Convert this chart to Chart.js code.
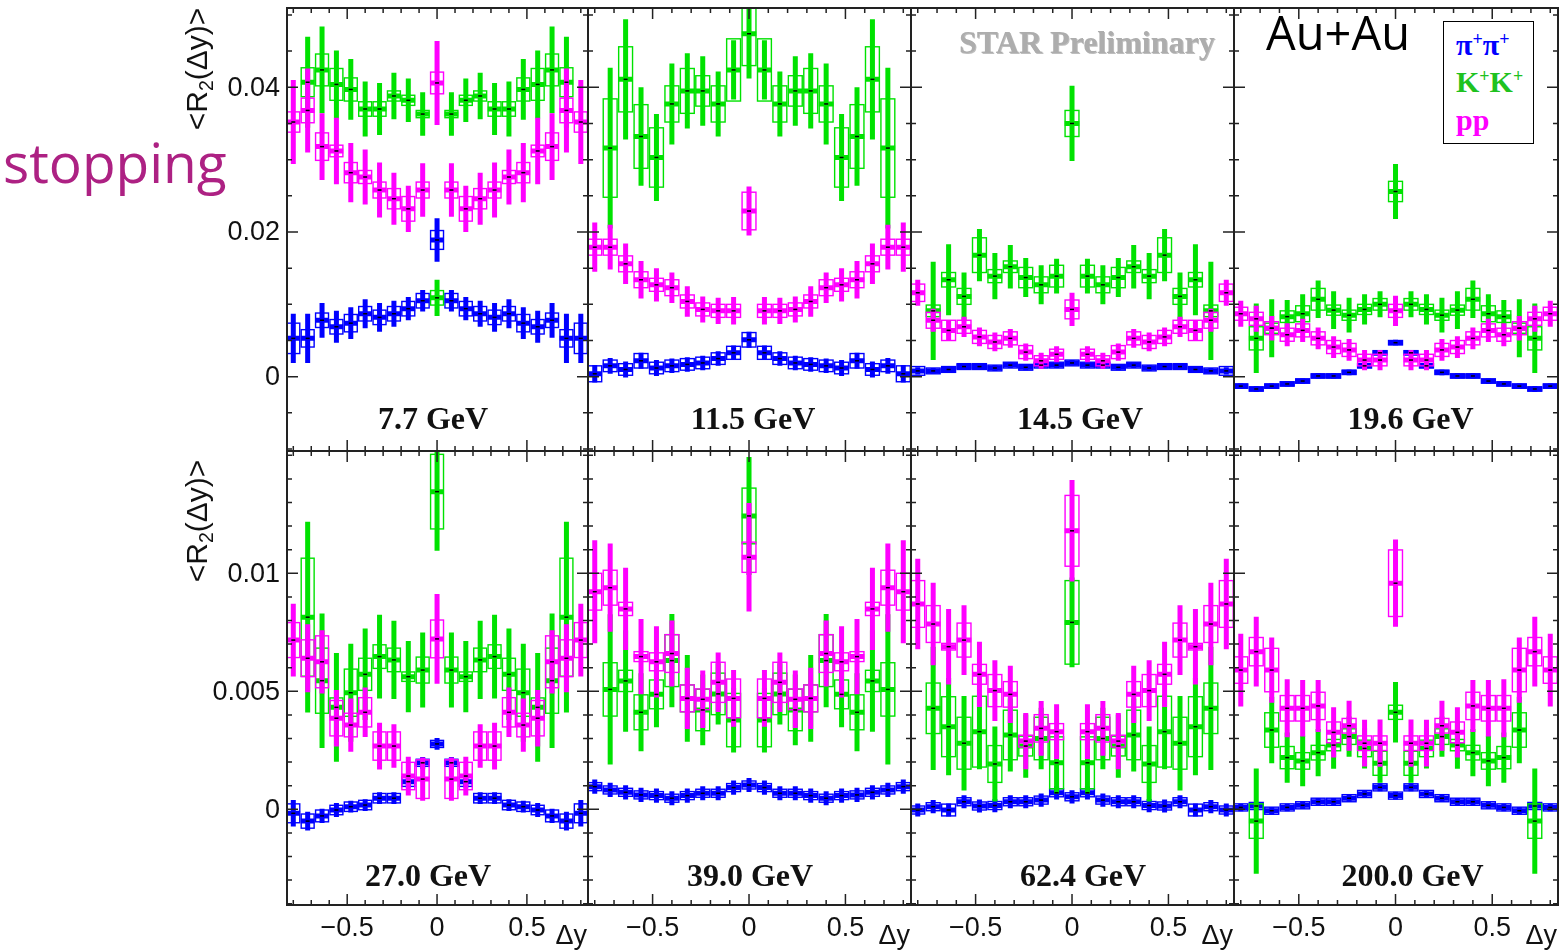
<!DOCTYPE html>
<html>
<head>
<meta charset="utf-8">
<script src="https://cdn.jsdelivr.net/npm/chart.js@4.4.1/dist/chart.umd.min.js"></script>
<style>
  html, body { margin: 0; padding: 0; background: #fff; }
  #page { position: relative; width: 1559px; height: 951px; overflow: hidden; background: #fff; }
  #page canvas { position: absolute; left: 0; top: 0; }
  .txt { position: absolute; white-space: nowrap; line-height: 1; z-index: 5; }
  .ytitle { font: 30px "Liberation Sans", Arial, sans-serif; color: #111; display: inline-block;
            transform: translate(-50%, -50%) rotate(-90deg); }
  .ytitle .sub { font-size: 0.65em; position: relative; top: 0.3em; }
  #legend { position: absolute; left: 1443px; top: 21px; width: 89px; height: 121px;
            border: 1.5px solid #000; background: #fff; z-index: 5; }
  #legend .txt { font: bold 30px "Liberation Serif", "Times New Roman", serif; left: 12px; }
  #legend .sup { font-size: 0.6em; position: relative; top: -10px; }
</style>
</head>
<body>
<div id="page">
  <span class="txt" style="left:3px; top:124px; font: 55px 'Open Sans', sans-serif; color:#ad2183;">stopping</span>
  <span class="txt" style="left:197px; top:69px;"><span class="ytitle">&lt;R<span class="sub">2</span>(Δy)&gt;</span></span>
  <span class="txt" style="left:197px; top:521px;"><span class="ytitle">&lt;R<span class="sub">2</span>(Δy)&gt;</span></span>
  <span class="txt" style="left:959px; top:24px; font: bold 32px 'Liberation Serif', serif; color:#adadad; text-shadow: 1px 1px 0 rgba(110,110,110,0.45);">STAR Preliminary</span>
  <span class="txt" style="left:1266px; top:0px; font: 47px 'Open Sans', sans-serif; color:#000;">Au+Au</span>
  <div id="legend">
    <span class="txt" style="top:6px; color:#0000ff;">π<span class="sup">+</span>π<span class="sup">+</span></span>
    <span class="txt" style="top:43px; color:#1fc21f;">K<span class="sup">+</span>K<span class="sup">+</span></span>
    <span class="txt" style="top:81px; color:#ff00ff;">pp</span>
  </div>
</div>
<script>
// delta-y bins
const dy = [-0.8,-0.72,-0.64,-0.56,-0.48,-0.4,-0.32,-0.24,-0.16,-0.08,0,0.08,0.16,0.24,0.32,0.4,0.48,0.56,0.64,0.72,0.8];

// 7.7 GeV
const pi77 = [0.0053,0.0053,0.0078,0.0069,0.0074,0.0087,0.0082,0.0087,0.0094,0.0105,0.0189,0.0105,0.0094,0.0087,0.0082,0.0087,0.0074,0.0069,0.0078,0.0053,0.0053];
const pi77Stat = [0.0034,0.0034,0.0024,0.0022,0.0022,0.0020,0.0020,0.0018,0.0016,0.0015,0.0030,0.0015,0.0016,0.0018,0.0020,0.0020,0.0022,0.0022,0.0024,0.0034,0.0034];
const pi77Sys = [0.0021,0.0012,0.0010,0.0010,0.0012,0.0010,0.0010,0.0010,0.0010,0.0010,0.0013,0.0010,0.0010,0.0010,0.0010,0.0010,0.0012,0.0010,0.0010,0.0012,0.0021];
const k77 = [null,0.0407,0.0424,0.0404,0.0397,0.0370,0.0370,0.0388,0.0382,0.0363,0.0109,0.0363,0.0382,0.0388,0.0370,0.0370,0.0397,0.0404,0.0424,0.0407,null];
const k77Stat = [null,0.0063,0.0060,0.0047,0.0042,0.0038,0.0036,0.0032,0.0030,0.0030,0.0025,0.0030,0.0030,0.0032,0.0036,0.0038,0.0042,0.0047,0.0060,0.0063,null];
const k77Sys = [null,0.0020,0.0022,0.0022,0.0016,0.0010,0.0010,0.0007,0.0007,0.0005,0.0010,0.0005,0.0007,0.0007,0.0010,0.0010,0.0016,0.0022,0.0022,0.0020,null];
const p77 = [0.0352,0.0368,0.0318,0.0312,0.0282,0.0276,0.0258,0.0246,0.0232,0.0258,0.0406,0.0258,0.0232,0.0246,0.0258,0.0276,0.0282,0.0312,0.0318,0.0368,0.0352];
const p77Stat = [0.0058,0.0058,0.0046,0.0046,0.0041,0.0038,0.0038,0.0036,0.0032,0.0037,0.0058,0.0037,0.0032,0.0036,0.0038,0.0038,0.0041,0.0046,0.0046,0.0058,0.0058];
const p77Sys = [0.0014,0.0017,0.0019,0.0008,0.0014,0.0009,0.0011,0.0014,0.0017,0.0011,0.0015,0.0011,0.0017,0.0014,0.0011,0.0009,0.0014,0.0008,0.0019,0.0017,0.0014];

// 11.5 GeV
const pi115 = [0.0004,0.0015,0.0010,0.0022,0.0012,0.0015,0.0017,0.0019,0.0025,0.0033,0.0051,0.0033,0.0025,0.0019,0.0017,0.0015,0.0012,0.0022,0.0010,0.0015,0.0004];
const pi115Stat = [0.0012,0.0011,0.0011,0.0011,0.0011,0.0010,0.0010,0.0010,0.0010,0.0010,0.0011,0.0010,0.0010,0.0010,0.0010,0.0010,0.0011,0.0011,0.0011,0.0011,0.0012];
const pi115Sys = [0.0011,0.0008,0.0008,0.0010,0.0008,0.0008,0.0008,0.0008,0.0008,0.0009,0.0010,0.0009,0.0008,0.0008,0.0008,0.0008,0.0008,0.0010,0.0008,0.0008,0.0011];
const k115 = [null,0.0316,0.0411,0.0332,0.0303,0.0377,0.0395,0.0395,0.0377,0.0424,0.0474,0.0424,0.0377,0.0395,0.0395,0.0377,0.0303,0.0332,0.0411,0.0316,null];
const k115Stat = [null,0.0111,0.0083,0.0068,0.0060,0.0056,0.0052,0.0048,0.0045,0.0041,0.0062,0.0041,0.0045,0.0048,0.0052,0.0056,0.0060,0.0068,0.0083,0.0111,null];
const k115Sys = [null,0.0068,0.0045,0.0044,0.0041,0.0025,0.0031,0.0021,0.0025,0.0043,0.0044,0.0043,0.0025,0.0021,0.0031,0.0025,0.0041,0.0044,0.0045,0.0068,null];
const p115 = [0.0179,0.0179,0.0156,0.0134,0.0127,0.0123,0.0104,0.0093,0.0091,0.0091,0.0229,0.0091,0.0091,0.0093,0.0104,0.0123,0.0127,0.0134,0.0156,0.0179,0.0179];
const p115Stat = [0.0034,0.0031,0.0028,0.0026,0.0023,0.0021,0.0021,0.0018,0.0018,0.0019,0.0034,0.0019,0.0018,0.0018,0.0021,0.0021,0.0023,0.0026,0.0028,0.0031,0.0034];
const p115Sys = [0.0011,0.0011,0.0011,0.0011,0.0009,0.0011,0.0009,0.0009,0.0009,0.0009,0.0026,0.0009,0.0009,0.0009,0.0009,0.0011,0.0009,0.0011,0.0011,0.0011,0.0011];

// 14.5 GeV
const pi145 = [0.0008,0.0008,0.0010,0.0014,0.0014,0.0012,0.0016,0.0013,0.0016,0.0016,0.0019,0.0016,0.0016,0.0013,0.0016,0.0012,0.0014,0.0014,0.0010,0.0008,0.0008];
const pi145Stat = [0.0005,0.0004,0.0004,0.0004,0.0004,0.0004,0.0004,0.0004,0.0004,0.0004,0.0004,0.0004,0.0004,0.0004,0.0004,0.0004,0.0004,0.0004,0.0004,0.0004,0.0005];
const pi145Sys = [0.0006,0.0004,0.0004,0.0004,0.0004,0.0004,0.0004,0.0004,0.0004,0.0004,0.0004,0.0004,0.0004,0.0004,0.0004,0.0004,0.0004,0.0004,0.0004,0.0004,0.0006];
const k145 = [null,0.0091,0.0134,0.0111,0.0168,0.0139,0.0152,0.0137,0.0127,0.0139,0.0350,0.0139,0.0127,0.0137,0.0152,0.0139,0.0168,0.0111,0.0134,0.0091,null];
const k145Stat = [null,0.0068,0.0049,0.0033,0.0036,0.0032,0.0030,0.0027,0.0027,0.0024,0.0052,0.0024,0.0027,0.0027,0.0030,0.0032,0.0036,0.0033,0.0049,0.0068,null];
const k145Sys = [null,0.0008,0.0010,0.0011,0.0024,0.0009,0.0008,0.0014,0.0011,0.0015,0.0018,0.0015,0.0011,0.0014,0.0008,0.0009,0.0024,0.0011,0.0010,0.0008,null];
const p145 = [0.0116,0.0078,0.0064,0.0069,0.0055,0.0048,0.0053,0.0034,0.0022,0.0031,0.0093,0.0031,0.0022,0.0034,0.0053,0.0048,0.0055,0.0069,0.0064,0.0078,0.0116];
const p145Stat = [0.0018,0.0016,0.0014,0.0014,0.0013,0.0013,0.0013,0.0012,0.0011,0.0011,0.0023,0.0011,0.0011,0.0012,0.0013,0.0013,0.0013,0.0014,0.0014,0.0016,0.0018];
const p145Sys = [0.0012,0.0011,0.0014,0.0009,0.0009,0.0009,0.0009,0.0009,0.0007,0.0007,0.0013,0.0007,0.0007,0.0009,0.0009,0.0009,0.0009,0.0009,0.0014,0.0011,0.0012];

// 19.6 GeV
const pi196 = [-0.0013,-0.0017,-0.0013,-0.0010,-0.0006,0.0001,0.0001,0.0006,0.0015,0.0033,0.0047,0.0033,0.0015,0.0006,0.0001,0.0001,-0.0006,-0.0010,-0.0013,-0.0017,-0.0013];
const pi196Stat = [0.0004,0.0004,0.0004,0.0004,0.0004,0.0004,0.0004,0.0004,0.0004,0.0004,0.0004,0.0004,0.0004,0.0004,0.0004,0.0004,0.0004,0.0004,0.0004,0.0004,0.0004];
const pi196Sys = [0.0003,0.0003,0.0003,0.0003,0.0003,0.0003,0.0003,0.0003,0.0003,0.0003,0.0003,0.0003,0.0003,0.0003,0.0003,0.0003,0.0003,0.0003,0.0003,0.0003,0.0003];
const k196 = [null,0.0053,0.0067,0.0083,0.0087,0.0107,0.0092,0.0085,0.0093,0.0100,0.0256,0.0100,0.0093,0.0085,0.0092,0.0107,0.0087,0.0083,0.0067,0.0053,null];
const k196Stat = [null,0.0048,0.0040,0.0023,0.0027,0.0026,0.0026,0.0024,0.0021,0.0018,0.0038,0.0018,0.0021,0.0024,0.0026,0.0026,0.0027,0.0023,0.0040,0.0048,null];
const k196Sys = [null,0.0016,0.0007,0.0008,0.0011,0.0015,0.0007,0.0007,0.0007,0.0008,0.0014,0.0008,0.0007,0.0007,0.0007,0.0015,0.0011,0.0008,0.0007,0.0016,null];
const p196 = [0.0087,0.0080,0.0067,0.0058,0.0064,0.0053,0.0041,0.0037,0.0023,0.0023,0.0091,0.0023,0.0023,0.0037,0.0041,0.0053,0.0064,0.0058,0.0067,0.0080,0.0087];
const p196Stat = [0.0018,0.0018,0.0017,0.0016,0.0016,0.0015,0.0015,0.0015,0.0014,0.0014,0.0021,0.0014,0.0014,0.0015,0.0015,0.0015,0.0016,0.0016,0.0017,0.0018,0.0018];
const p196Sys = [0.0009,0.0009,0.0009,0.0009,0.0009,0.0009,0.0009,0.0009,0.0008,0.0008,0.0009,0.0008,0.0008,0.0009,0.0009,0.0009,0.0009,0.0009,0.0009,0.0009,0.0009];

// 27.0 GeV
const pi270 = [-0.00017,-0.0005,-0.00028,-0.00003,0.00011,0.00018,0.00047,0.00047,0.00117,0.00197,0.00277,0.00197,0.00117,0.00047,0.00047,0.00018,0.00011,-0.00003,-0.00028,-0.0005,-0.00017];
const pi270Stat = [0.00056,0.0004,0.0003,0.0003,0.00025,0.00025,0.00025,0.00025,0.00025,0.00025,0.00025,0.00025,0.00025,0.00025,0.00025,0.00025,0.00025,0.0003,0.0003,0.0004,0.00056];
const pi270Sys = [0.0004,0.0003,0.00025,0.0002,0.0002,0.0002,0.0002,0.0002,0.0002,0.00015,0.00015,0.00015,0.0002,0.0002,0.0002,0.0002,0.0002,0.0002,0.00025,0.0003,0.0004];
const k270 = [null,0.00814,0.00545,0.00432,0.00494,0.00572,0.00647,0.00633,0.00562,0.0059,0.01346,0.0059,0.00562,0.00633,0.00647,0.00572,0.00494,0.00432,0.00545,0.00814,null];
const k270Stat = [null,0.00404,0.00285,0.0023,0.00208,0.00194,0.00177,0.00166,0.00151,0.00159,0.0025,0.00159,0.00151,0.00166,0.00177,0.00194,0.00208,0.0023,0.00285,0.00404,null];
const k270Sys = [null,0.0025,0.00138,0.0004,0.001,0.00068,0.0005,0.0005,0.0002,0.00055,0.00158,0.00055,0.0002,0.0005,0.0005,0.00068,0.001,0.0004,0.00138,0.0025,null];
const p270 = [0.00717,0.0064,0.00625,0.00386,0.00357,0.00411,0.00268,0.00268,0.00141,0.00128,0.00722,0.00128,0.00141,0.00268,0.00268,0.00411,0.00357,0.00386,0.00625,0.0064,0.00717];
const p270Stat = [0.00154,0.00144,0.00134,0.0012,0.00113,0.00105,0.00099,0.00092,0.00082,0.00092,0.0019,0.00092,0.00082,0.00092,0.00099,0.00105,0.00113,0.0012,0.00134,0.00144,0.00154];
const p270Sys = [0.00074,0.00078,0.0011,0.00075,0.0005,0.00062,0.0006,0.0006,0.00058,0.00082,0.0008,0.00082,0.00058,0.0006,0.0006,0.00062,0.0005,0.00075,0.0011,0.00078,0.00074];

// 39.0 GeV
const pi390 = [0.00096,0.00082,0.00072,0.00061,0.00058,0.00047,0.00058,0.00068,0.00068,0.00092,0.00103,0.00092,0.00068,0.00068,0.00058,0.00047,0.00058,0.00061,0.00072,0.00082,0.00096];
const pi390Stat = [0.0003,0.0003,0.0003,0.0003,0.0003,0.0003,0.0003,0.0003,0.0003,0.0003,0.0003,0.0003,0.0003,0.0003,0.0003,0.0003,0.0003,0.0003,0.0003,0.0003,0.0003];
const pi390Sys = [0.00017,0.00017,0.00017,0.00017,0.00017,0.00017,0.00017,0.00017,0.00017,0.00017,0.00017,0.00017,0.00017,0.00017,0.00017,0.00017,0.00017,0.00017,0.00017,0.00017,0.00017];
const k390 = [null,0.00508,0.00544,0.00411,0.00487,0.0063,0.0047,0.00421,0.00489,0.00378,0.01243,0.00378,0.00489,0.00421,0.0047,0.0063,0.00487,0.00411,0.00544,0.00508,null];
const k390Stat = [null,0.00318,0.00215,0.00165,0.00139,0.00198,0.00184,0.0015,0.0013,0.00137,0.0025,0.00137,0.0013,0.0015,0.00184,0.00198,0.00139,0.00165,0.00215,0.00318,null];
const k390Sys = [null,0.00113,0.00045,0.00074,0.00061,0.0011,0.00057,0.00088,0.00088,0.00113,0.00118,0.00113,0.00088,0.00088,0.00057,0.0011,0.00061,0.00074,0.00045,0.00113,null];
const p390 = [0.00922,0.00939,0.00849,0.00647,0.00625,0.0066,0.0047,0.00466,0.00538,0.0047,0.01068,0.0047,0.00538,0.00466,0.0047,0.0066,0.00625,0.00647,0.00849,0.00939,0.00922];
const p390Stat = [0.00218,0.00187,0.00174,0.00159,0.00151,0.0014,0.0013,0.00122,0.00126,0.0012,0.0023,0.0012,0.00126,0.00122,0.0013,0.0014,0.00151,0.00159,0.00174,0.00187,0.00218];
const p390Sys = [0.00078,0.00074,0.00028,0.00021,0.00038,0.0008,0.00057,0.00044,0.00085,0.00082,0.00064,0.00082,0.00085,0.00044,0.00057,0.0008,0.00038,0.00021,0.00028,0.00074,0.00078];

// 62.4 GeV
const pi624 = [-0.00003,0.00011,-0.00003,0.00032,0.00014,0.00016,0.00032,0.00032,0.00039,0.0007,0.00053,0.0007,0.00039,0.00032,0.00032,0.00016,0.00014,0.00032,-0.00003,0.00011,-0.00003];
const pi624Stat = [0.00028,0.00028,0.00028,0.00028,0.00028,0.00028,0.00028,0.00028,0.00028,0.00028,0.00028,0.00028,0.00028,0.00028,0.00028,0.00028,0.00028,0.00028,0.00028,0.00028,0.00028];
const pi624Sys = [0.00017,0.00017,0.00025,0.00017,0.00017,0.00017,0.00017,0.00017,0.00017,0.00017,0.00017,0.00017,0.00017,0.00017,0.00017,0.00017,0.00017,0.00017,0.00025,0.00017,0.00017];
const k624 = [null,0.00428,0.0035,0.0028,0.00329,0.00192,0.00315,0.00268,0.003,0.00197,0.00792,0.00197,0.003,0.00268,0.00315,0.00192,0.00329,0.0028,0.0035,0.00428,null];
const k624Stat = [null,0.00261,0.00206,0.002,0.00159,0.00159,0.00155,0.00134,0.0013,0.0013,0.0019,0.0013,0.0013,0.00134,0.00155,0.00159,0.00159,0.002,0.00206,0.00261,null];
const k624Sys = [null,0.00107,0.00127,0.0011,0.0015,0.00078,0.00105,0.00042,0.0009,0.0011,0.00177,0.0011,0.0009,0.00042,0.00105,0.00078,0.0015,0.0011,0.00127,0.00107,null];
const p624 = [0.0087,0.00785,0.00689,0.00717,0.00572,0.00503,0.00487,0.00289,0.00343,0.00329,0.0118,0.00329,0.00343,0.00289,0.00487,0.00503,0.00572,0.00717,0.00689,0.00785,0.0087];
const p624Stat = [0.00192,0.00175,0.0016,0.00148,0.00138,0.00129,0.00121,0.00119,0.00116,0.00116,0.00215,0.00116,0.00116,0.00119,0.00121,0.00129,0.00138,0.00148,0.0016,0.00175,0.00192];
const p624Sys = [0.00099,0.00078,0.00014,0.00072,0.00042,0.00068,0.00054,0.00025,0.00058,0.00034,0.0015,0.00034,0.00058,0.00025,0.00054,0.00068,0.00042,0.00072,0.00014,0.00078,0.00099];

// 200.0 GeV
const pi200 = [0.00008,0.00014,-0.00006,0.00008,0.00017,0.00032,0.00032,0.00047,0.00065,0.00093,0.00058,0.00093,0.00065,0.00047,0.00032,0.00032,0.00017,0.00008,-0.00006,0.00014,0.00008];
const pi200Stat = [0.00016,0.00016,0.00016,0.00016,0.00016,0.00016,0.00016,0.00016,0.00016,0.00016,0.00016,0.00016,0.00016,0.00016,0.00016,0.00016,0.00016,0.00016,0.00016,0.00016,0.00016];
const pi200Sys = [0.00015,0.00015,0.00015,0.00015,0.00015,0.00015,0.00015,0.00015,0.00015,0.00015,0.00015,0.00015,0.00015,0.00015,0.00015,0.00015,0.00015,0.00015,0.00015,0.00015,0.00015];
const k200 = [null,-0.0005,0.00336,0.00219,0.00205,0.0024,0.00272,0.00308,0.00258,0.00195,0.00411,0.00195,0.00258,0.00308,0.00272,0.0024,0.00205,0.00219,0.00336,-0.0005,null];
const k200Stat = [null,0.00223,0.00141,0.00106,0.00107,0.001,0.001,0.00085,0.00085,0.00083,0.00128,0.00083,0.00085,0.00085,0.001,0.001,0.00107,0.00106,0.00141,0.00223,null];
const k200Sys = [null,0.00073,0.00073,0.00047,0.00035,0.00031,0.00024,0.00033,0.00035,0.00051,0.0003,0.00051,0.00035,0.00033,0.00024,0.00031,0.00035,0.00047,0.00073,0.00073,null];
const p200 = [0.0059,0.00668,0.0059,0.00428,0.00428,0.00438,0.00326,0.00354,0.0028,0.0028,0.00958,0.0028,0.0028,0.00354,0.00326,0.00438,0.00428,0.00428,0.0059,0.00668,0.0059];
const p200Stat = [0.00154,0.00148,0.00138,0.00123,0.0012,0.0011,0.00106,0.00106,0.00099,0.001,0.00185,0.001,0.00099,0.00106,0.00106,0.0011,0.0012,0.00123,0.00138,0.00148,0.00154];
const p200Sys = [0.00056,0.0006,0.00092,0.00054,0.00054,0.00058,0.00044,0.00031,0.00031,0.00031,0.00141,0.00031,0.00031,0.00031,0.00044,0.00058,0.00054,0.00054,0.00092,0.0006,0.00056];

// axis ticks and labels
const xTicks = [-0.8,-0.7,-0.6,-0.5,-0.4,-0.3,-0.2,-0.1,0,0.1,0.2,0.3,0.4,0.5,0.6,0.7,0.8];
const xMajor = [-0.5, 0, 0.5];
const xLabels = ['\u22120.5', '0', '0.5'];
const yTicksTop = [-0.01,-0.005,0,0.005,0.01,0.015,0.02,0.025,0.03,0.035,0.04,0.045,0.05];
const yMajorTop = [0, 0.02, 0.04];
const yLabelsTop = ['0', '0.02', '0.04'];
const yTicksBot = [-0.004,-0.003,-0.002,-0.001,0,0.001,0.002,0.003,0.004,0.005,0.006,0.007,0.008,0.009,0.01,0.011,0.012,0.013,0.014,0.015];
const yMajorBot = [0, 0.005, 0.01];
const yLabelsBot = ['0', '0.005', '0.01'];

const energies = ['7.7 GeV','11.5 GeV','14.5 GeV','19.6 GeV','27.0 GeV','39.0 GeV','62.4 GeV','200.0 GeV'];
const series = [
  [pi77,pi77Stat,pi77Sys, k77,k77Stat,k77Sys, p77,p77Stat,p77Sys],
  [pi115,pi115Stat,pi115Sys, k115,k115Stat,k115Sys, p115,p115Stat,p115Sys],
  [pi145,pi145Stat,pi145Sys, k145,k145Stat,k145Sys, p145,p145Stat,p145Sys],
  [pi196,pi196Stat,pi196Sys, k196,k196Stat,k196Sys, p196,p196Stat,p196Sys],
  [pi270,pi270Stat,pi270Sys, k270,k270Stat,k270Sys, p270,p270Stat,p270Sys],
  [pi390,pi390Stat,pi390Sys, k390,k390Stat,k390Sys, p390,p390Stat,p390Sys],
  [pi624,pi624Stat,pi624Sys, k624,k624Stat,k624Sys, p624,p624Stat,p624Sys],
  [pi200,pi200Stat,pi200Sys, k200,k200Stat,k200Sys, p200,p200Stat,p200Sys]
];

// layout of the 2x4 grid (page pixels)
const W = 1559, H = 951;
const colEdges = [287, 588, 911, 1234, 1558];
const rowEdges = [8, 451, 905];
const rows = [
  { min: -0.01027, max: 0.05096, ticks: yTicksTop, major: yMajorTop, labels: yLabelsTop, labelY: 429 },
  { min: -0.004055, max: 0.015182, ticks: yTicksBot, major: yMajorBot, labels: yLabelsBot, labelY: 886 }
];
const labelShift = [-4, 4, 8, 15, -9, 1, 11, 17];
const colors = ['#0000ff', '#00e200', '#ff00ff'];
const barHalf = 0.038, boxHalf = 0.036;

const errorBars = {
  id: 'errorBars',
  beforeDatasetsDraw(chart) {
    const { ctx, chartArea: a, scales: { x, y } } = chart;
    ctx.save();
    ctx.beginPath();
    ctx.rect(a.left, a.top, a.right - a.left, a.bottom - a.top);
    ctx.clip();
    chart.data.datasets.forEach(ds => {
      ctx.strokeStyle = ds.mainColor;
      ds.data.forEach(pt => {
        const px = x.getPixelForValue(pt.x);
        const py = y.getPixelForValue(pt.y);
        const bx0 = x.getPixelForValue(pt.x - boxHalf);
        const bx1 = x.getPixelForValue(pt.x + boxHalf);
        const by0 = y.getPixelForValue(pt.y + pt.sys);
        const by1 = y.getPixelForValue(pt.y - pt.sys);
        ctx.lineWidth = 1.4;
        ctx.strokeRect(bx0, by0, bx1 - bx0, by1 - by0);
        ctx.lineWidth = 5;
        ctx.beginPath();
        ctx.moveTo(px, y.getPixelForValue(pt.y + pt.stat));
        ctx.lineTo(px, y.getPixelForValue(pt.y - pt.stat));
        ctx.moveTo(x.getPixelForValue(pt.x - barHalf), py);
        ctx.lineTo(x.getPixelForValue(pt.x + barHalf), py);
        ctx.stroke();
      });
    });
    ctx.restore();
  },
  afterDraw(chart, args, opts) {
    const { ctx, chartArea: a, scales: { x, y } } = chart;
    const row = rows[opts.row];
    ctx.save();
    ctx.strokeStyle = '#222';
    ctx.lineWidth = 1.5;
    ctx.beginPath();
    xTicks.forEach(v => {
      const len = xMajor.includes(v) ? 11 : 5;
      const px = x.getPixelForValue(v);
      ctx.moveTo(px, a.bottom); ctx.lineTo(px, a.bottom - len);
      ctx.moveTo(px, a.top); ctx.lineTo(px, a.top + len);
    });
    row.ticks.forEach(v => {
      const len = row.major.includes(v) ? 11 : 5;
      const py = y.getPixelForValue(v);
      ctx.moveTo(a.left, py); ctx.lineTo(a.left + len, py);
      ctx.moveTo(a.right, py); ctx.lineTo(a.right - len, py);
    });
    ctx.stroke();
    ctx.lineWidth = 2;
    ctx.strokeRect(a.left, a.top, a.right - a.left, a.bottom - a.top);

    ctx.fillStyle = '#111';
    ctx.font = '27px "Liberation Sans", Arial, sans-serif';
    if (opts.col === 0) {
      ctx.textAlign = 'right';
      ctx.textBaseline = 'middle';
      row.major.forEach((v, i) => ctx.fillText(row.labels[i], a.left - 7, y.getPixelForValue(v) + 1));
    }
    if (opts.row === 1) {
      ctx.textAlign = 'center';
      ctx.textBaseline = 'middle';
      xMajor.forEach((v, i) => ctx.fillText(xLabels[i], x.getPixelForValue(v), a.bottom + 24));
      ctx.textAlign = 'right';
      ctx.textBaseline = 'alphabetic';
      ctx.fillText('Δy', a.right - 1, a.bottom + 39);
    }
    ctx.font = 'bold 32px "Liberation Serif", "Times New Roman", serif';
    ctx.textAlign = 'center';
    ctx.textBaseline = 'alphabetic';
    ctx.fillText(opts.label, x.getPixelForValue(0) + opts.shift, row.labelY);
    ctx.restore();
  }
};

const page = document.getElementById('page');
energies.forEach((label, n) => {
  const r = Math.floor(n / 4), c = n % 4;
  const s = series[n];
  const canvas = document.createElement('canvas');
  canvas.width = W; canvas.height = H;
  page.insertBefore(canvas, page.firstChild);
  const datasets = [0, 1, 2].map(k => {
    const vals = s[3 * k], stat = s[3 * k + 1], sys = s[3 * k + 2];
    const pts = [];
    dy.forEach((xv, i) => {
      if (vals[i] !== null) pts.push({ x: xv, y: vals[i], stat: stat[i], sys: sys[i] });
    });
    return {
      data: pts,
      mainColor: colors[k],
      pointStyle: 'line',
      pointRadius: 2,
      pointBorderColor: '#000',
      pointBorderWidth: 1.5,
      showLine: false
    };
  });
  new Chart(canvas, {
    type: 'scatter',
    data: { datasets: datasets },
    options: {
      responsive: false,
      animation: false,
      devicePixelRatio: 1,
      events: [],
      layout: {
        autoPadding: false,
        padding: { left: colEdges[c], right: W - colEdges[c + 1], top: rowEdges[r], bottom: H - rowEdges[r + 1] }
      },
      plugins: {
        legend: { display: false },
        tooltip: { enabled: false },
        errorBars: { row: r, col: c, label: label, shift: labelShift[n] }
      },
      scales: {
        x: { type: 'linear', display: false, min: -0.835, max: 0.84 },
        y: { type: 'linear', display: false, min: rows[r].min, max: rows[r].max }
      }
    },
    plugins: [errorBars]
  });
});
</script>
</body>
</html>
